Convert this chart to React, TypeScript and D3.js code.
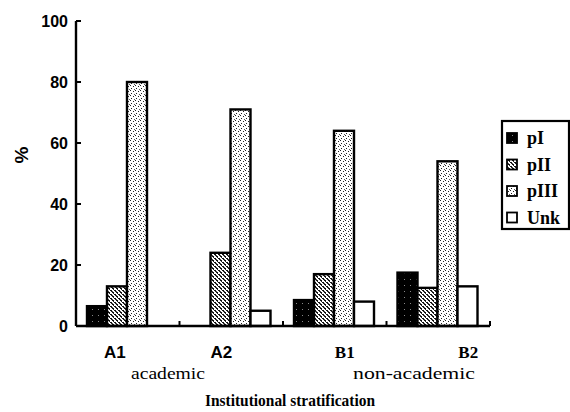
import React from "react";
import * as d3 from "d3";

const categories = ["A1", "A2", "B1", "B2"];
const seriesNames = ["pI", "pII", "pIII", "Unk"];
const pI = [6.5, 0, 8.5, 17.5];
const pII = [13, 24, 17, 12.5];
const pIII = [80, 71, 64, 54];
const unk = [0, 5, 8, 13];
const yTicks = [0, 20, 40, 60, 80, 100];
const groupLabels = ["academic", "non-academic"];

const seriesValues = [pI, pII, pIII, unk];
const labelOffsets = [-13, -10, 10, 30];
const fills = ["url(#patI)", "url(#patII)", "url(#patIII)", "#ffffff"];

export default function App() {
  const W = 570;
  const H = 412;
  const left = 76;
  const right = 490;
  const x = d3.scaleBand<string>().domain(categories).range([left, right]).padding(0);
  const inner = d3.scaleBand<string>().domain(seriesNames).range([11, 91]).padding(0);
  const y = d3.scaleLinear().domain([0, 100]).range([326, 21]);
  const serif = "'Liberation Serif', 'DejaVu Serif', serif";
  const sans = "'Liberation Sans', Arial, sans-serif";

  return (
    <svg width={W} height={H} style={{ position: "absolute", left: 0, top: 0, background: "#fff" }}>
      <defs>
        <pattern id="patI" width="6" height="6" patternUnits="userSpaceOnUse">
          <rect width="6" height="6" fill="#000" />
          <rect x="2" y="3" width="1" height="1" fill="#888" />
        </pattern>
        <pattern id="patII" width="4" height="4" patternUnits="userSpaceOnUse">
          <rect width="4" height="4" fill="#fff" />
          <rect x="0" y="0" width="2" height="1" fill="#111" />
          <rect x="2" y="2" width="2" height="1" fill="#111" />
          <rect x="1" y="1" width="1" height="1" fill="#222" />
          <rect x="3" y="3" width="1" height="1" fill="#222" />
          <rect x="0" y="3" width="1" height="1" fill="#444" />
        </pattern>
        <pattern id="patIII" width="5" height="5" patternUnits="userSpaceOnUse">
          <rect width="5" height="5" fill="#fff" />
          <rect x="0" y="0" width="1" height="1" fill="#222" />
          <rect x="3" y="1" width="1" height="1" fill="#222" />
          <rect x="1" y="3" width="1" height="1" fill="#222" />
          <rect x="4" y="4" width="1" height="1" fill="#555" />
        </pattern>
      </defs>

      {/* bars */}
      {categories.map((c, ci) =>
        seriesNames.map((s, si) => {
          const v = seriesValues[si][ci];
          if (v <= 0) return null;
          const bx = (x(c) as number) + (inner(s) as number);
          return (
            <rect
              key={c + s}
              x={bx}
              y={y(v)}
              width={inner.bandwidth()}
              height={y(0) - y(v)}
              fill={fills[si]}
              stroke="#000"
              strokeWidth={2.4}
            />
          );
        })
      )}

      {/* y axis */}
      <line x1={left} x2={left} y1={y(100)} y2={y(0)} stroke="#000" strokeWidth={2.4} />
      {yTicks.map((t) => (
        <g key={t}>
          <line x1={left} x2={left + 5} y1={y(t)} y2={y(t)} stroke="#000" strokeWidth={2} />
          <text
            x={68}
            y={y(t)}
            dy="0.35em"
            textAnchor="end"
            fontFamily={sans}
            fontWeight="bold"
            fontSize={16}
          >
            {t}
          </text>
        </g>
      ))}

      {/* x axis */}
      <line x1={left} x2={right} y1={y(0)} y2={y(0)} stroke="#000" strokeWidth={2.4} />
      {categories.map((c) => {
        const xe = (x(c) as number) + x.bandwidth();
        return <line key={c} x1={xe} x2={xe} y1={y(0)} y2={y(0) - 5} stroke="#000" strokeWidth={2} />;
      })}

      {/* category labels */}
      {categories.map((c, i) => (
        <text
          key={c}
          x={(x(c) as number) + x.bandwidth() / 2 + labelOffsets[i]}
          y={358}
          textAnchor="middle"
          fontFamily={i < 2 ? sans : serif}
          fontWeight="bold"
          fontSize={17}
        >
          {c}
        </text>
      ))}
      <text x={168} y={379} textAnchor="middle" fontFamily={serif} fontSize={17} textLength={74} lengthAdjust="spacingAndGlyphs">
        {groupLabels[0]}
      </text>
      <text x={414} y={379} textAnchor="middle" fontFamily={serif} fontSize={17} textLength={122} lengthAdjust="spacingAndGlyphs">
        {groupLabels[1]}
      </text>
      <text x={290} y={406} textAnchor="middle" fontFamily={serif} fontWeight="bold" fontSize={16} textLength={170} lengthAdjust="spacingAndGlyphs">
        Institutional stratification
      </text>
      <text
        transform="translate(28,155) rotate(-90)"
        textAnchor="middle"
        fontFamily={sans}
        fontWeight="bold"
        fontSize={19}
      >
        %
      </text>

      {/* legend */}
      <rect x={502} y={121} width={67} height={108} fill="#fff" stroke="#000" strokeWidth={2.2} />
      {seriesNames.map((s, i) => {
        const cy = 138 + i * 26.5;
        return (
          <g key={s}>
            <rect x={507} y={cy - 5} width={10} height={10} fill={fills[i]} stroke="#000" strokeWidth={1.8} />
            <text x={527} y={cy} dy="0.35em" fontFamily={serif} fontWeight="bold" fontSize={18}>
              {s}
            </text>
          </g>
        );
      })}
    </svg>
  );
}
